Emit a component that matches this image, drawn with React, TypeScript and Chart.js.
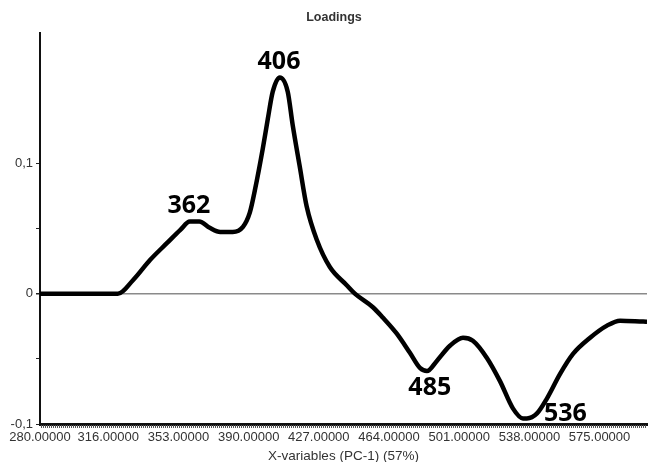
import React, { useEffect, useRef } from "react";
import { Chart, registerables } from "chart.js";

Chart.register(...registerables);

const wavelengths = [280, 321, 329, 338, 347, 354, 359, 364, 369.5, 375, 381.6, 387, 390.6, 393.3, 397.4, 400.1, 402.7, 406.4, 410.6, 413.2, 416.9, 420.6, 425.9, 432.8, 441.7, 446, 455.5, 460.7, 468.1, 475, 480.3, 484, 489.2, 496.1, 503, 508.2, 515.6, 522.5, 529.3, 534.6, 536.7, 542, 547.3, 554.1, 561, 570, 578.9, 585.8, 598, 600];
const loadings = [0, 0, 0.0103, 0.0258, 0.0389, 0.049, 0.0553, 0.0553, 0.0505, 0.0474, 0.0474, 0.0513, 0.0622, 0.0795, 0.1109, 0.1341, 0.155, 0.1659, 0.155, 0.1295, 0.0978, 0.0668, 0.0413, 0.0204, 0.0065, 0, -0.0104, -0.0183, -0.0307, -0.0454, -0.057, -0.0594, -0.0516, -0.04, -0.0338, -0.0361, -0.0493, -0.0671, -0.088, -0.0957, -0.0957, -0.0919, -0.0803, -0.0617, -0.0462, -0.0338, -0.0245, -0.0207, -0.0214, -0.0215];

const xTickValues = [280, 316, 353, 390, 427, 464, 501, 538, 575];
const yTickValues = [-0.1, -0.05, 0, 0.05, 0.1];

const peakLabels = ["362", "406", "485", "536"];
const peakLabelX = [358.5, 406, 485.5, 557];
const peakLabelY = [0.0676, 0.178, -0.0725, -0.092];

const titleText = "Loadings";
const xTitleText = "X-variables (PC-1) (57%)";

const decorPlugin = {
  id: "decor",
  afterDraw(chart: any) {
    const ctx = chart.ctx;
    const area = chart.chartArea;
    const xs = chart.scales.x;
    const ys = chart.scales.y;
    ctx.save();
    // hatch under bottom axis
    ctx.strokeStyle = "#555";
    ctx.lineWidth = 1;
    for (let px = area.left + 1; px < area.right; px += 2) {
      ctx.beginPath();
      ctx.moveTo(px + 0.5, area.bottom + 1);
      ctx.lineTo(px + 0.5, area.bottom + 4);
      ctx.stroke();
    }
    // title
    ctx.fillStyle = "#333";
    ctx.font = "bold 12.5px 'Liberation Sans', Arial, sans-serif";
    ctx.textAlign = "center";
    ctx.textBaseline = "middle";
    ctx.fillText(titleText, 334, 18);
    // x title
    ctx.font = "13.5px 'Liberation Sans', Arial, sans-serif";
    ctx.fillText(xTitleText, (area.left + area.right) / 2, 456);
    // peak annotations
    ctx.fillStyle = "#000";
    ctx.font = "bold 25px 'Open Sans', 'Noto Sans', sans-serif";
    for (let i = 0; i < peakLabels.length; i++) {
      ctx.fillText(peakLabels[i], xs.getPixelForValue(peakLabelX[i]), ys.getPixelForValue(peakLabelY[i]));
    }
    ctx.restore();
  },
};

export default function App() {
  const canvasRef = useRef<HTMLCanvasElement | null>(null);

  useEffect(() => {
    if (!canvasRef.current) return;
    const data = wavelengths.map((w, i) => ({ x: w, y: loadings[i] }));
    const chart = new Chart(canvasRef.current, {
      type: "line",
      data: {
        datasets: [
          {
            data,
            borderColor: "#000",
            borderWidth: 4.5,
            pointRadius: 0,
            fill: false,
            cubicInterpolationMode: "monotone",
          },
        ],
      },
      options: {
        animation: false,
        responsive: true,
        maintainAspectRatio: false,
        layout: { padding: { top: 33, right: 1, left: 0, bottom: 0 } },
        plugins: {
          legend: { display: false },
          tooltip: { enabled: false },
          title: { display: false },
        },
        scales: {
          x: {
            type: "linear",
            min: 280,
            max: 600,
            afterBuildTicks: (scale: any) => {
              scale.ticks = xTickValues.map((v) => ({ value: v }));
            },
            afterFit: (scale: any) => {
              scale.height = 38;
            },
            grid: { display: false, drawTicks: false },
            border: { display: true, color: "#111", width: 3 },
            ticks: {
              autoSkip: false,
              maxRotation: 0,
              padding: 6,
              color: "#333",
              font: { family: "'Liberation Sans', Arial, sans-serif", size: 13 },
              callback: (v: any) => Number(v).toFixed(5),
            },
          },
          y: {
            type: "linear",
            min: -0.1,
            max: 0.2,
            afterBuildTicks: (scale: any) => {
              scale.ticks = yTickValues.map((v) => ({ value: v }));
            },
            afterFit: (scale: any) => {
              scale.width = 40;
            },
            grid: {
              display: true,
              drawTicks: true,
              tickLength: 4,
              tickColor: "#222",
              color: (c: any) => (c.tick && Math.abs(c.tick.value) < 1e-9 ? "#8a8a8a" : "rgba(0,0,0,0)"),
              lineWidth: (c: any) => (c.tick && Math.abs(c.tick.value) < 1e-9 ? 1.5 : 1),
            },
            border: { display: true, color: "#111", width: 2 },
            ticks: {
              autoSkip: false,
              padding: 3,
              color: "#333",
              font: { family: "'Liberation Sans', Arial, sans-serif", size: 13 },
              callback: (v: any) => {
                const n = Number(v);
                if (Math.abs(n * 10 - Math.round(n * 10)) > 1e-9) return "";
                if (Math.abs(n) < 1e-9) return "0";
                return n.toFixed(1).replace(".", ",");
              },
            },
          },
        },
      },
      plugins: [decorPlugin],
    } as any);
    return () => chart.destroy();
  }, []);

  return (
    <div style={{ position: "fixed", left: 0, top: 0, width: 648, height: 462, background: "#fff" }}>
      <canvas ref={canvasRef} />
    </div>
  );
}
